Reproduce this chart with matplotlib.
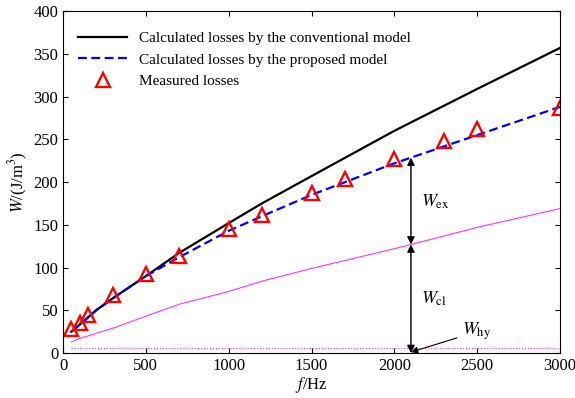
import numpy as np
import matplotlib
matplotlib.use('Agg')
import matplotlib.pyplot as plt

plt.rc('font', family='Liberation Serif', size=11)
plt.rc('mathtext', fontset='stix')

# data
f_calc = [50, 100, 200, 300, 500, 700, 1000, 1200, 1500, 2000, 2500, 3000]
w_conv = [25, 33, 50, 64, 90, 117, 152, 175, 207, 260, 309, 357]
w_prop = [25, 33, 50, 64, 90, 112, 143, 160, 185, 222, 255, 288]
w_cl_hy = [13, 17, 23, 29, 43, 57, 72, 84, 99, 122, 147, 169]
w_hy = [6, 6, 6, 6, 6, 6, 6, 6, 6, 6, 6, 6]

f_meas = [50, 100, 150, 300, 500, 700, 1000, 1200, 1500, 1700, 2000, 2300, 2500, 3000]
w_meas = [28, 35, 44, 68, 92, 113, 145, 162, 187, 204, 227, 248, 262, 287]

f_arrow = 2100

fig = plt.figure(figsize=(5.75, 3.98), dpi=100)
ax = fig.add_axes((0.1096, 0.113, 0.8644, 0.859))

ax.plot(f_calc, w_conv, color='k', lw=1.6, label='Calculated losses by the conventional model')
ax.plot(f_calc, w_prop, color='b', lw=1.6, ls=(0, (4, 2)), label='Calculated losses by the proposed model')
ax.plot(f_meas, w_meas, ls='none', marker='^', ms=10, mfc='none', mec='r', mew=1.7, label='Measured losses')
ax.plot(f_calc, w_cl_hy, color='#ff33ff', lw=0.8)
ax.plot(f_calc, w_hy, color='#ff33ff', lw=0.8, ls=':')

# arrows marking the loss components
y_hy = np.interp(f_arrow, f_calc, w_hy)
y_cl = np.interp(f_arrow, f_calc, w_cl_hy)
y_tot = np.interp(f_arrow, f_calc, w_prop)
akw = dict(arrowstyle='<|-|>', color='k', lw=1.0, mutation_scale=11, shrinkA=0, shrinkB=0)
ax.annotate('', xy=(f_arrow, y_cl), xytext=(f_arrow, y_tot), arrowprops=akw)
ax.annotate('', xy=(f_arrow, y_hy - 6), xytext=(f_arrow, y_cl), arrowprops=akw)
ax.text(2160, 177, r'$W_{\rm ex}$', fontsize=13, va='center')
ax.text(2160, 64, r'$W_{\rm cl}$', fontsize=13, va='center')
ax.annotate(r'$W_{\rm hy}$', xy=(f_arrow, 1), xytext=(2410, 25), fontsize=13, va='center',
            arrowprops=dict(arrowstyle='-|>', color='k', lw=0.8, mutation_scale=10, shrinkA=2, shrinkB=0))

ax.set_xlim(0, 3000)
ax.set_ylim(0, 400)
ax.set_xticks(np.arange(0, 3001, 500))
ax.set_yticks(np.arange(0, 401, 50))
ax.tick_params(direction='in', top=True, right=True, length=3.5, labelsize=12)
ax.set_xlabel(r'$f$/Hz', fontsize=12, labelpad=1)
ax.set_ylabel(r'$W$/(J/m$^3$)', fontsize=12, labelpad=2)

ax.legend(loc='upper left', frameon=False, fontsize=11, handlelength=3.2, borderaxespad=0.6,
          labelspacing=0.5, bbox_to_anchor=(0.0, 0.985))

fig.savefig('out.png', dpi=100)
